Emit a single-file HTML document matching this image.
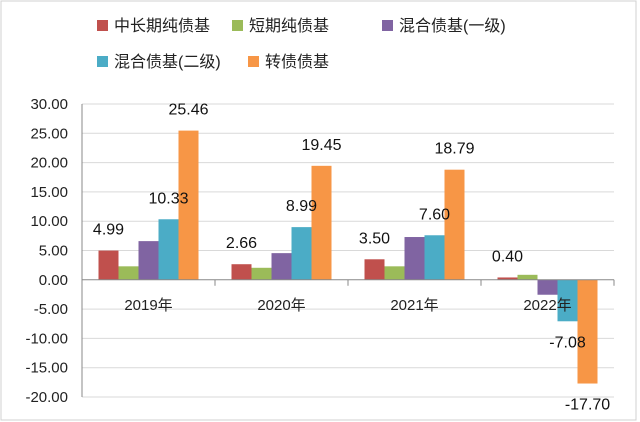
<!DOCTYPE html>
<html><head><meta charset="utf-8"><style>
body{margin:0;background:#fff}
svg{display:block;font-family:"Liberation Sans","Noto Sans CJK SC",sans-serif}
</style></head><body>
<svg id="chart" width="640" height="422">
<rect x="1" y="1" width="635" height="419" fill="#fff" stroke="#d0d0d0"/>
<g id="legend"></g>
<g id="grid"></g>
<g id="bars"></g>
<g id="axes"></g>
</svg>
<script>
const categories = ["2019年","2020年","2021年","2022年"];
const seriesNames = ["中长期纯债基","短期纯债基","混合债基(一级)","混合债基(二级)","转债债基"];
const midLong = [4.99, 2.66, 3.50, 0.40];
const shortTerm = [2.3, 2.05, 2.3, 0.85];
const mixed1 = [6.6, 4.55, 7.3, -2.55];
const mixed2 = [10.33, 8.99, 7.60, -7.08];
const convertible = [25.46, 19.45, 18.79, -17.70];
const yTicks = [30,25,20,15,10,5,0,-5,-10,-15,-20];
const labelSeries = [0, 3, 4];

const colors = ["#c0504d","#9bbb59","#8064a2","#4bacc6","#f79646"];
const series = [midLong, shortTerm, mixed1, mixed2, convertible];
const NS = "http://www.w3.org/2000/svg";
const x0 = 82, x1 = 614, yTop = 104, yBot = 397;
const vMax = 30, vMin = -20;
const y = v => yTop + (vMax - v) / (vMax - vMin) * (yBot - yTop);
const groupW = (x1 - x0) / categories.length;
const barW = 20;
const xBar = (c, s) => x0 + c * groupW + (groupW - barW * series.length) / 2 + s * barW;
function el(tag, attrs, parent, text){
  const e = document.createElementNS(NS, tag);
  for (const k in attrs) e.setAttribute(k, attrs[k]);
  if (text !== undefined) e.textContent = text;
  parent.appendChild(e);
  return e;
}
const grid = document.getElementById('grid');
const axes = document.getElementById('axes');
const bars = document.getElementById('bars');
const legend = document.getElementById('legend');

yTicks.forEach(t => {
  if (t !== 0) {
    const g = el('line', {x1:x0, x2:x1, y1:y(t), y2:y(t), stroke:'#d9d9d9', 'stroke-width':1}, grid);
    
    
  }
  const lb = el('text', {x:x0-14, y:y(t)+5, 'text-anchor':'end', 'font-size':15, fill:'#222'}, axes, t.toFixed(2));
  
  
});
const ya = el('line', {x1:x0, x2:x0, y1:yTop, y2:yBot, stroke:'#888'}, axes);



series.forEach((vals, s) => {
  vals.forEach((v, c) => {
    const top = Math.min(y(v), y(0)), h = Math.abs(y(v) - y(0));
    const r = el('rect', {x:xBar(c, s), y:top, width:barW, height:h, fill:colors[s]}, bars);
    
    
  });
});

const xa = el('line', {x1:x0, x2:x1, y1:y(0), y2:y(0), stroke:'#888'}, axes);


for (let c = 0; c <= categories.length; c++) {
  const tx = x0 + c * groupW;
  el('line', {x1:tx, x2:tx, y1:y(0), y2:y(0)+6, stroke:'#888'}, axes);
}
categories.forEach((cat, c) => {
  const t = el('text', {x:x0 + (c+0.5)*groupW, y:y(0)+30, 'text-anchor':'middle', 'font-size':15, fill:'#222'}, axes, cat);
  
  
});

labelSeries.forEach(s => {
  series[s].forEach((v, c) => {
    const cx = xBar(c, s) + barW/2;
    const ty = v >= 0 ? y(v) - 16 : y(v) + 26;
    const t = el('text', {x:cx, y:ty, 'text-anchor':'middle', 'font-size':16, fill:'#111'}, bars, v.toFixed(2));
    
    
  });
});

const legPos = [[97,31],[232,31],[382,31],[97,67],[248,67]];
seriesNames.forEach((n, s) => {
  const [lx, ly] = legPos[s];
  const g = el('g', {}, legend);
  
  
  el('rect', {x:lx, y:ly-11, width:11, height:11, fill:colors[s]}, g);
  el('text', {x:lx+17, y:ly, 'font-size':16, fill:'#222'}, g, n);
});
</script>
</body></html>
